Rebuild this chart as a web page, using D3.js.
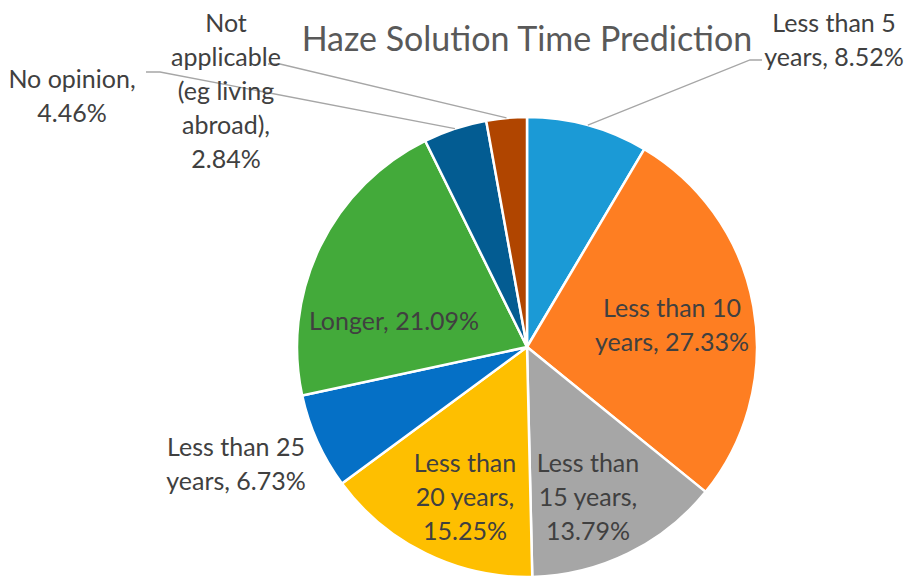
<!DOCTYPE html>
<html>
<head>
<meta charset="utf-8">
<script src="https://cdn.jsdelivr.net/npm/d3@7"></script>
<style>
  html, body { margin: 0; padding: 0; background: #fff; }
  svg { display: block; }
  text { font-family: Lato, "Open Sans", sans-serif; }
</style>
</head>
<body>
<svg id="chart" width="909" height="576"></svg>
<script>
// ---- data ----
const categories = [
  "Less than 5 years",
  "Less than 10 years",
  "Less than 15 years",
  "Less than 20 years",
  "Less than 25 years",
  "Longer",
  "No opinion",
  "Not applicable (eg living abroad)"
];
const values = [8.52, 27.33, 13.79, 15.25, 6.73, 21.09, 4.46, 2.84];
const labelLines = [
  ["Less than 5", "years, 8.52%"],
  ["Less than 10", "years, 27.33%"],
  ["Less than", "15 years,", "13.79%"],
  ["Less than", "20 years,", "15.25%"],
  ["Less than 25", "years, 6.73%"],
  ["Longer, 21.09%"],
  ["No opinion,", "4.46%"],
  ["Not", "applicable", "(eg living", "abroad),", "2.84%"]
];
const colors = ["#1B9AD6", "#FE7E22", "#A6A6A6", "#FEBF00", "#0570C6", "#43AA3A", "#035C92", "#B04500"];
const title = "Haze Solution Time Prediction";

// ---- layout (not data) ----
const cx = 527, cy = 347, R = 230;
const lineH = 34;
const labelLayout = [
  { x: 834, y: 22, leader: [762, 60, 750, 60] },
  { x: 672, y: 307 },
  { x: 588, y: 462 },
  { x: 465, y: 462 },
  { x: 236, y: 446 },
  { x: 394, y: 320 },
  { x: 72,  y: 78,  leader: [146, 72, 160, 72] },
  { x: 226, y: 22,  leader: [268, 64, 280, 64] }
];

const svg = d3.select("#chart");

const pie = d3.pie().value(d => d).sort(null);
const arcs = pie(values);
const arc = d3.arc().innerRadius(0).outerRadius(R);

const g = svg.append("g").attr("transform", `translate(${cx},${cy})`);
g.selectAll("path.slice")
  .data(arcs)
  .enter().append("path")
  .attr("class", "slice")
  .attr("d", arc)
  .attr("fill", (d, i) => colors[i])
  .attr("stroke", "#fff")
  .attr("stroke-width", 2.5)
  .attr("stroke-linejoin", "round");

arcs.forEach((d, i) => {
  const L = labelLayout[i];
  if (!L.leader) return;
  const mid = (d.startAngle + d.endAngle) / 2;
  const ex = cx + R * Math.sin(mid), ey = cy - R * Math.cos(mid);
  const [x1, y1, x2, y2] = L.leader;
  svg.append("polyline")
    .attr("points", `${x1},${y1} ${x2},${y2} ${ex},${ey}`)
    .attr("fill", "none")
    .attr("stroke", "#A6A6A6")
    .attr("stroke-width", 1.3);
});

svg.append("text")
  .attr("x", cx).attr("y", 37)
  .attr("text-anchor", "middle")
  .attr("dominant-baseline", "central")
  .attr("fill", "#595959")
  .attr("font-size", 34)
  .text(title);

labelLines.forEach((lines, i) => {
  const L = labelLayout[i];
  const t = svg.append("text")
    .attr("text-anchor", "middle")
    .attr("fill", "#404040")
    .attr("font-size", 25);
  lines.forEach((ln, j) => {
    t.append("tspan")
      .attr("x", L.x)
      .attr("y", L.y + j * lineH)
      .attr("dominant-baseline", "central")
      .text(ln);
  });
});
</script>
</body>
</html>
